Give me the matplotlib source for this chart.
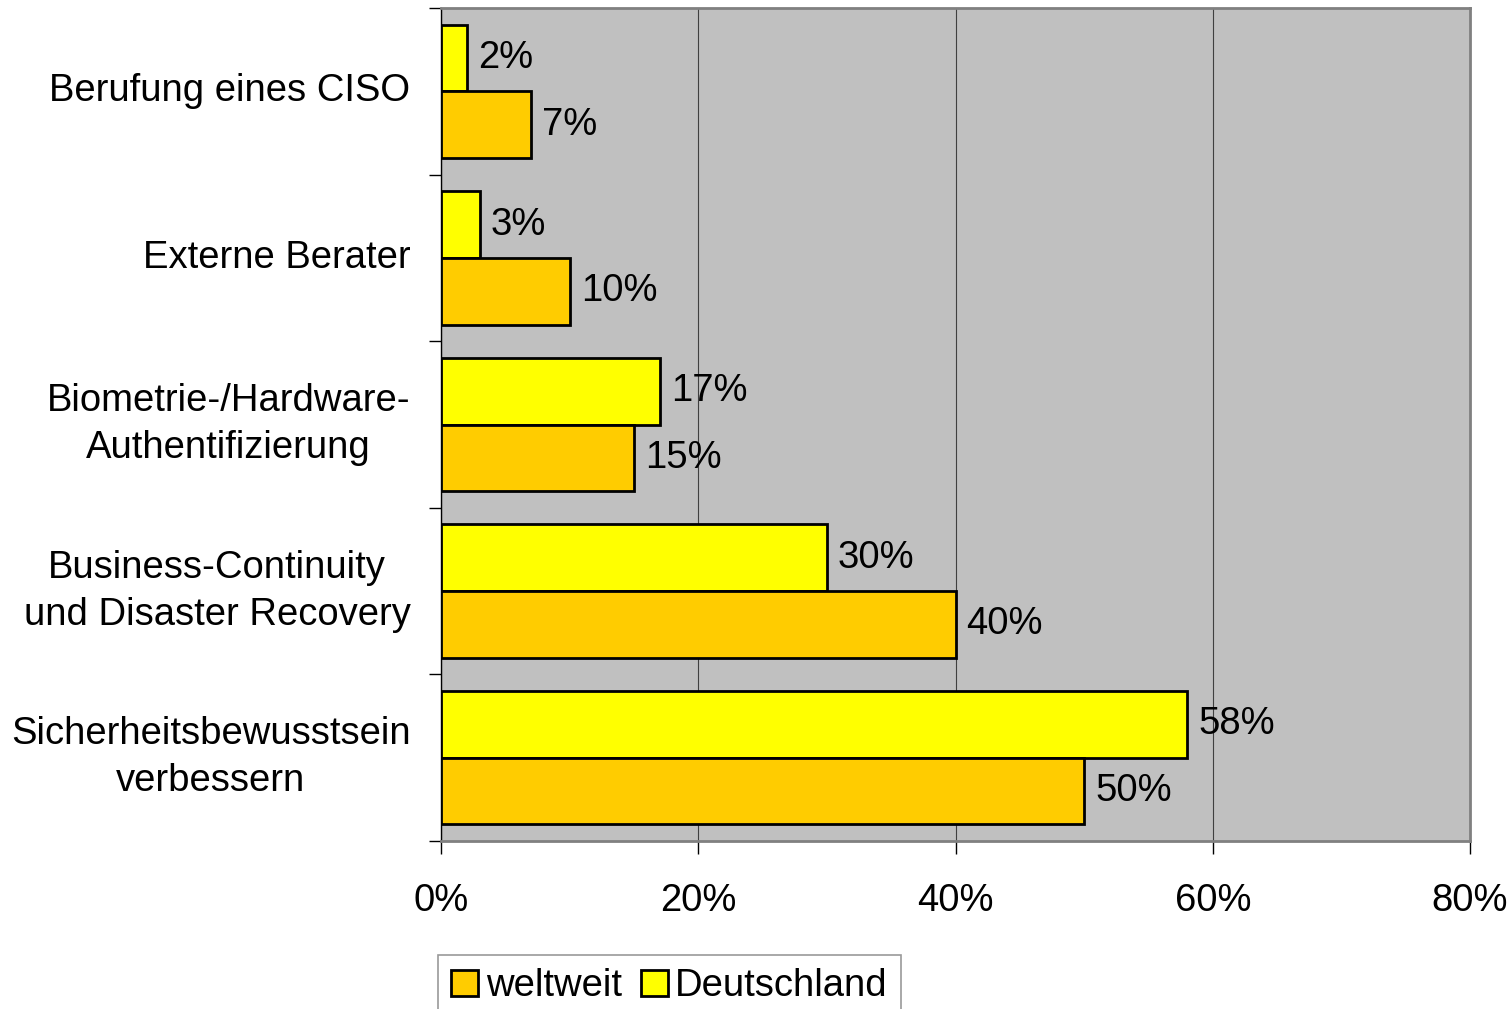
import numpy as np
import matplotlib.pyplot as plt
from matplotlib.patches import Patch

plt.rcParams['font.family'] = ['Liberation Sans', 'DejaVu Sans']

# Massnahmen und Anteile je Region
categories = ['Berufung eines CISO', 'Externe Berater',
              'Biometrie-/Hardware-\nAuthentifizierung',
              'Business-Continuity\nund Disaster Recovery',
              'Sicherheitsbewusstsein\nverbessern']
deutschland = [2, 3, 17, 30, 58]
weltweit = [7, 10, 15, 40, 50]
xticks = [0, 20, 40, 60, 80]

col_de = '#FFFF00'
col_ww = '#FFCC00'
fs = 27.5

fig = plt.figure(figsize=(15.12, 10.09), dpi=100)
ax = fig.add_axes([441 / 1512, 168 / 1009, 1029 / 1512, 833 / 1009])
ax.set_facecolor('#C0C0C0')

y = np.arange(len(categories))
h = 0.4
b_de = ax.barh(y - h / 2, deutschland, height=h, color=col_de,
               edgecolor='black', linewidth=2, zorder=3)
b_ww = ax.barh(y + h / 2, weltweit, height=h, color=col_ww,
               edgecolor='black', linewidth=2, zorder=3)

for bars, vals in ((b_de, deutschland), (b_ww, weltweit)):
    for bar, v in zip(bars, vals):
        ax.annotate(f'{v}%', (v, bar.get_y() + bar.get_height() / 2),
                    xytext=(8, 0), textcoords='offset points',
                    ha='left', va='center', fontsize=fs, zorder=4)

ax.set_xlim(0, 80)
ax.set_ylim(len(categories) - 0.5, -0.5)
ax.set_xticks(xticks)
ax.set_xticklabels([f'{t}%' for t in xticks], fontsize=fs)
ax.tick_params(axis='x', length=9, width=1, direction='out', pad=21)
ax.grid(axis='x', color='#404040', linewidth=0.8, zorder=1)

# Kategorienachse: Striche an den Gruppengrenzen, Beschriftungen mittig
ax.set_yticks(np.arange(len(categories) + 1) - 0.5)
ax.set_yticklabels([])
ax.tick_params(axis='y', length=9, width=1, direction='out')
for yi, lab in zip(y, categories):
    ax.text(-0.0296, yi, lab, transform=ax.get_yaxis_transform(),
            ha='right', va='center', multialignment='center',
            linespacing=1.4, fontsize=fs)

for side in ('top', 'right', 'bottom'):
    ax.spines[side].set_color('#808080')
    ax.spines[side].set_linewidth(2)
ax.spines['left'].set_color('black')
ax.spines['left'].set_linewidth(1)

handles = [Patch(facecolor=col_ww, edgecolor='black', linewidth=2),
           Patch(facecolor=col_de, edgecolor='black', linewidth=2)]
leg = fig.legend(handles, ['weltweit', 'Deutschland'], ncol=2,
                 loc='upper left', bbox_to_anchor=(438 / 1512, 54 / 1009),
                 fontsize=fs, frameon=True, fancybox=False,
                 handlelength=0.7, handleheight=0.7, handletextpad=0.2,
                 columnspacing=0.5, borderpad=0.35, borderaxespad=0)
leg.get_frame().set_edgecolor('#808080')
leg.get_frame().set_linewidth(1.2)

fig.savefig('out.png', dpi=100)
